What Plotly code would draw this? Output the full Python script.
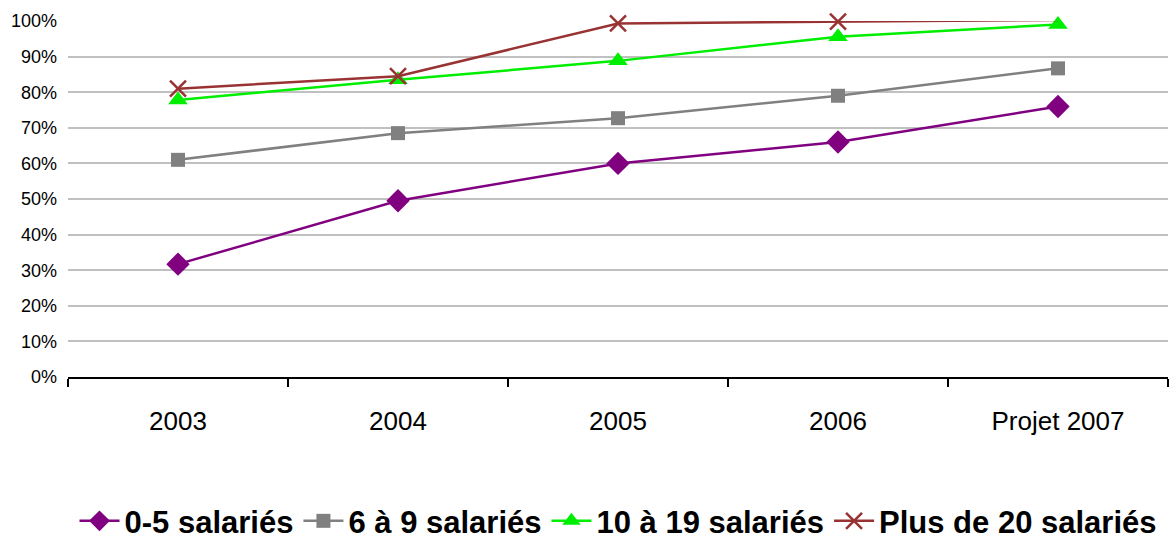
import plotly.graph_objects as go

categories = ["2003", "2004", "2005", "2006", "Projet 2007"]
s_0_5 = [0.317, 0.495, 0.600, 0.660, 0.760]
s_6_9 = [0.610, 0.685, 0.727, 0.790, 0.867]
s_10_19 = [0.778, 0.835, 0.888, 0.956, 0.990]
s_20 = [0.810, 0.845, 0.993, 0.998, 1.003]

names = ["0-5 salariés", "6 à 9 salariés", "10 à 19 salariés", "Plus de 20 salariés"]
colors = ["#800080", "#808080", "#00ee00", "#993333"]
symbols = ["diamond", "square", "triangle-up", "x-thin"]
sizes = [18, 14, 17, 16]
series = [s_0_5, s_6_9, s_10_19, s_20]

FONT = "Liberation Sans, Arial, sans-serif"

fig = go.Figure()
for name, vals, c, sym, sz in zip(names, series, colors, symbols, sizes):
    fig.add_trace(go.Scatter(
        x=categories, y=vals, name=name, mode="lines+markers",
        line=dict(color=c, width=2.5),
        marker=dict(symbol=sym, size=sz, color=c,
                    line=dict(color=c, width=2.5 if sym == "x-thin" else 0)),
        cliponaxis=False,
    ))

fig.update_layout(
    width=1171, height=540,
    margin=dict(l=68, r=3, t=21, b=163, autoexpand=False),
    plot_bgcolor="white", paper_bgcolor="white",
    font=dict(family=FONT, color="#000"),
    showlegend=True,
    legend=dict(orientation="h", x=0.5, xanchor="center", y=-0.405, yanchor="middle",
                font=dict(size=31, family=FONT, color="#000", weight="bold"),
                itemwidth=40, traceorder="normal"),
    xaxis=dict(type="category", range=[-0.5, 4.5], showline=True, linecolor="#000",
               linewidth=2, ticks="outside", tickson="boundaries", ticklen=8,
               tickwidth=2, tickcolor="#000", showgrid=False, automargin=False,
               tickfont=dict(size=26), ticklabelstandoff=20),
    yaxis=dict(range=[0, 1.0], tickvals=[i / 10 for i in range(11)], tickformat=".0%",
               showgrid=True, gridcolor="#c0c0c0", gridwidth=2, zeroline=False,
               showline=False, ticks="", tickfont=dict(size=18), ticklabelstandoff=10,
               automargin=False),
)

fig.write_html("out.html", config={"displayModeBar": False},
               post_script="document.body.style.margin='0';document.body.style.padding='0';")
